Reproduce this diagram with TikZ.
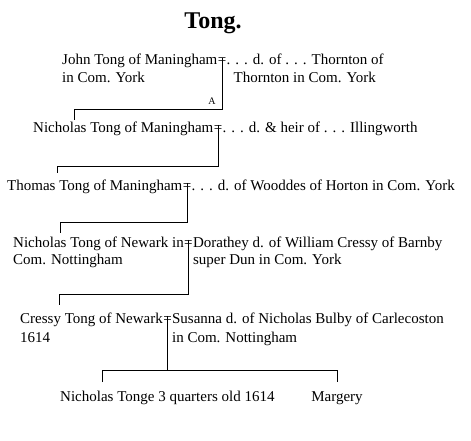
\documentclass[tikz,border=0pt]{standalone}
\usepackage{fontspec}
\setmainfont{Liberation Serif}
\usetikzlibrary{calc}

\begin{document}
\begin{tikzpicture}[x=1pt,y=-1pt,
  txt/.style={inner sep=0pt,anchor=base west,font=\fontsize{15}{17}\selectfont},
  link/.style={line width=1pt},
  tag/.style={inner sep=0pt,anchor=base,font=\fontsize{10}{12}\selectfont}]
\useasboundingbox (0,0) rectangle (471,441);

\node[inner sep=0pt,anchor=base,font=\fontsize{24}{24}\selectfont\bfseries] (title) at (213,29) {Tong.};

\node[txt] (john) at (62,65) {John Tong of Maningham};
\node[txt] (eq1) at (john.base east) {=};
\node[txt] (wife1) at (eq1.base east) {. . . d. of . . . Thornton of};
\node[txt] (john2) at (62,83) {in Com. York};
\node[txt] (wife1b) at ($(wife1.base west |- 0,83)+(7,0)$) {Thornton in Com. York};
\node[tag] (tagA) at ($(eq1.north |- 0,105)+(-10,0)$) {A};

\node[txt] (nich) at (33,132) {Nicholas Tong of Maningham};
\node[txt] (eq2) at (nich.base east) {=};
\node[txt] (wife2) at (eq2.base east) {. . . d. \& heir of . . . Illingworth};

\node[txt] (thom) at (7,190) {Thomas Tong of Maningham};
\node[txt] (eq3) at (thom.base east) {=};
\node[txt] (wife3) at (eq3.base east) {. . . d. of Wooddes of Horton in Com. York};

\node[txt] (newk) at (13,247) {Nicholas Tong of Newark in};
\node[txt] (eq4) at (newk.base east) {=};
\node[txt] (wife4) at (eq4.base east) {Dorathey d. of William Cressy of Barnby};
\node[txt] (newk2) at (13,264) {Com. Nottingham};
\node[txt] (wife4b) at (wife4.base west |- 0,264) {super Dun in Com. York};

\node[txt] (cres) at (20,323) {Cressy Tong of Newark};
\node[txt] (eq5) at (cres.base east) {=};
\node[txt] (wife5) at (eq5.base east) {Susanna d. of Nicholas Bulby of Carlecoston};
\node[txt] (cres2) at (20,342) {1614};
\node[txt] (wife5b) at (wife5.base west |- 0,342) {in Com. Nottingham};

\node[txt] (tonge) at (60,401) {Nicholas Tonge 3 quarters old 1614};
\node[txt,anchor=base] (marg) at (337,401) {Margery};

% drop points above the children
\coordinate (d1) at (74,120);
\coordinate (d2) at (57,173);
\coordinate (d3) at (60,233);
\coordinate (d4) at (59,305);
\coordinate (d5) at (102,382);
\coordinate (d6) at (marg.north |- 0,382);

\draw[link] (eq1.north) -- (eq1.north |- 0,110) -| (d1);
\draw[link] (eq2.north) -- (eq2.north |- 0,166) -| (d2);
\draw[link] (eq3.north) -- (eq3.north |- 0,222) -| (d3);
\draw[link] (eq4.north) -- (eq4.north |- 0,294) -| (d4);
\draw[link] (eq5.north) -- (eq5.north |- 0,370);
\draw[link] (d5) -- (d5 |- 0,370) -- (d6 |- 0,370) -- (d6);
\end{tikzpicture}
\end{document}
